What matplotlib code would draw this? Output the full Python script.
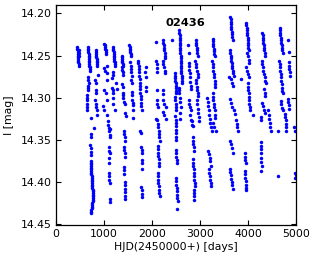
import matplotlib
matplotlib.use("Agg")
import matplotlib.pyplot as plt

# light curve of star 02436
s01_hjd = [445, 448, 450, 452, 455, 457, 460, 462, 465, 468, 470, 473, 475, 478, 480]
s01_mag = [14.240, 14.242, 14.244, 14.246, 14.248, 14.250, 14.252, 14.254, 14.256, 14.258,
           14.260, 14.262, 14.243, 14.247, 14.251]

s02_hjd = [670, 672, 675, 678, 680, 682, 685, 688, 690, 693, 695, 698, 700, 703, 705,
           665, 670, 680, 665, 668, 672, 640, 645, 650, 640, 645, 640, 730, 790,
           720, 735, 715, 725, 732, 740,
           720, 722, 725, 728, 730, 732, 735, 738, 740, 742, 745, 748, 750, 752, 755, 758,
           760, 762, 765, 768, 770, 772, 775, 778, 780, 760, 755, 750, 745, 740, 735, 730]
s02_mag = [14.240, 14.242, 14.244, 14.246, 14.248, 14.250, 14.252, 14.254, 14.256, 14.258,
           14.260, 14.262, 14.264, 14.266, 14.268,
           14.276, 14.279, 14.282, 14.286, 14.289, 14.291, 14.297, 14.300, 14.303, 14.307,
           14.311, 14.315, 14.324, 14.336,
           14.343, 14.346, 14.356, 14.360, 14.364, 14.368,
           14.375, 14.377, 14.379, 14.381, 14.383, 14.385, 14.387, 14.389, 14.391, 14.393,
           14.395, 14.397, 14.399, 14.401, 14.403, 14.405, 14.407, 14.409, 14.411, 14.413,
           14.415, 14.417, 14.419, 14.421, 14.423, 14.425, 14.427, 14.429, 14.431, 14.433,
           14.435, 14.437]

s03_hjd = [830, 833, 836, 840, 843, 846, 850, 853, 856, 860, 875, 820, 835, 830, 835,
           815, 825, 840, 850, 860]
s03_mag = [14.244, 14.246, 14.248, 14.250, 14.252, 14.254, 14.256, 14.258, 14.260, 14.262,
           14.273, 14.279, 14.283, 14.291, 14.295, 14.303, 14.307, 14.311, 14.315, 14.320]

s04_hjd = [1010, 1015, 1020, 1030, 1035, 1040, 1050, 1060, 1000, 1030, 1060, 1060, 1000,
           1040, 1070, 990, 995, 1060, 1130,
           1080, 1090, 1100, 1110, 1120, 1130, 1100, 1110, 1120, 1110, 1115,
           1100, 1105, 1110, 1120, 1120, 1125]
s04_mag = [14.236, 14.238, 14.240, 14.242, 14.244, 14.246, 14.248, 14.262, 14.265, 14.268,
           14.271, 14.279, 14.291, 14.295, 14.303, 14.310, 14.315, 14.321, 14.337,
           14.328, 14.332, 14.336, 14.340, 14.344, 14.347, 14.359, 14.363, 14.366, 14.372,
           14.377, 14.389, 14.393, 14.397, 14.401, 14.420, 14.424]

s05_hjd = [1190, 1193, 1196, 1200, 1203, 1206, 1210, 1213, 1216, 1220, 1222, 1225,
           1180, 1190, 1170, 1170, 1180, 1190, 1190, 1180, 1225, 1250, 1270]
s05_mag = [14.240, 14.242, 14.244, 14.246, 14.248, 14.250, 14.252, 14.254, 14.256, 14.258,
           14.260, 14.262, 14.270, 14.273, 14.277, 14.288, 14.291, 14.294, 14.300, 14.307,
           14.315, 14.282, 14.290]

s06_hjd = [1370, 1373, 1376, 1380, 1383, 1386, 1390, 1370, 1380, 1390, 1400, 1380, 1400,
           1390, 1392, 1395, 1420, 1440, 1440, 1450,
           1410, 1420, 1430, 1440, 1420, 1425, 1430, 1435, 1415, 1420, 1425,
           1430, 1432, 1435, 1438, 1440, 1445]
s06_mag = [14.250, 14.252, 14.254, 14.256, 14.258, 14.260, 14.262, 14.264, 14.267, 14.270,
           14.273, 14.284, 14.287, 14.294, 14.297, 14.300, 14.305, 14.308, 14.318, 14.322,
           14.339, 14.343, 14.347, 14.351, 14.358, 14.362, 14.366, 14.370, 14.382, 14.386,
           14.390, 14.400, 14.404, 14.408, 14.412, 14.416, 14.420]

s07_hjd = [1530, 1535, 1540, 1545, 1550, 1555, 1560, 1550, 1560, 1565, 1570, 1580, 1570,
           1590, 1580, 1585, 1590, 1595, 1600, 1600, 1600]
s07_mag = [14.238, 14.240, 14.242, 14.244, 14.246, 14.248, 14.250, 14.258, 14.262, 14.266,
           14.270, 14.274, 14.279, 14.283, 14.293, 14.297, 14.303, 14.306, 14.309, 14.315,
           14.324]

s08_hjd = [1710, 1715, 1720, 1725, 1730, 1735, 1740, 1745, 1750, 1755, 1760, 1765, 1770,
           1775, 1780, 1790,
           1760, 1770, 1780, 1785, 1790, 1795, 1800, 1790, 1780, 1785, 1790, 1795,
           1875, 1860, 1865, 1870, 1875]
s08_mag = [14.256, 14.259, 14.262, 14.266, 14.270, 14.274, 14.278, 14.282, 14.286, 14.290,
           14.294, 14.298, 14.302, 14.306, 14.310, 14.314,
           14.339, 14.342, 14.358, 14.362, 14.366, 14.374, 14.378, 14.385, 14.406, 14.410,
           14.414, 14.418,
           14.264, 14.270, 14.275, 14.287, 14.292]

s09_hjd = [2080, 2090, 2095, 2100, 2110, 2100, 2100, 2110, 2120, 2090,
           2110, 2120, 2130, 2140, 2150, 2155, 2160,
           2120, 2125, 2130, 2135, 2140, 2145, 2150,
           2120, 2125, 2130, 2135, 2140, 2150, 2155, 2160]
s09_mag = [14.234, 14.256, 14.260, 14.265, 14.270, 14.291, 14.303, 14.307, 14.311, 14.325,
           14.327, 14.331, 14.335, 14.339, 14.343, 14.347, 14.351,
           14.357, 14.361, 14.365, 14.369, 14.373, 14.377, 14.381,
           14.389, 14.393, 14.397, 14.401, 14.405, 14.409, 14.413, 14.417]

s10_hjd = [2220, 2230, 2240, 2250, 2260, 2265, 2270, 2275, 2220, 2235, 2250, 2265, 2280,
           2230, 2260, 2290, 2230, 2260, 2290, 2225, 2235]
s10_mag = [14.232, 14.235, 14.238, 14.241, 14.244, 14.247, 14.250, 14.253, 14.256, 14.260,
           14.264, 14.268, 14.271, 14.303, 14.307, 14.311, 14.317, 14.321, 14.325, 14.291,
           14.296]

s11_hjd = [2420, 2470, 2475, 2480, 2485, 2490, 2495, 2500, 2505, 2510,
           2470, 2480, 2490, 2500, 2510, 2480, 2495, 2510,
           2490, 2495, 2500, 2505, 2510, 2500, 2505, 2510, 2515, 2520,
           2500, 2505, 2510, 2515, 2520, 2525, 2530, 2535, 2520]
s11_mag = [14.232, 14.271, 14.274, 14.277, 14.280, 14.283, 14.286, 14.289, 14.292, 14.295,
           14.299, 14.303, 14.307, 14.311, 14.315, 14.322, 14.326, 14.330,
           14.334, 14.338, 14.342, 14.346, 14.350, 14.362, 14.366, 14.370, 14.374, 14.378,
           14.395, 14.399, 14.403, 14.407, 14.411, 14.415, 14.419, 14.423, 14.432]

s12_hjd = [2570, 2572, 2575, 2578, 2580, 2583, 2585, 2588, 2590, 2593, 2595, 2598, 2600,
           2603, 2605, 2608, 2610, 2612, 2615, 2617, 2618, 2620,
           2560, 2560, 2565, 2575, 2585, 2600, 2580, 2580]
s12_mag = [14.220, 14.223, 14.226, 14.229, 14.232, 14.235, 14.238, 14.241, 14.244, 14.247,
           14.250, 14.253, 14.256, 14.259, 14.262, 14.265, 14.268, 14.271, 14.274, 14.277,
           14.280, 14.283, 14.288, 14.291, 14.295, 14.300, 14.305, 14.311, 14.318, 14.325]

s13_hjd = [2750, 2770, 2760, 2770, 2780, 2790, 2800, 2790, 2805, 2820, 2760, 2775, 2790,
           2810, 2790, 2810, 2830,
           2840, 2845, 2850, 2855, 2860, 2865, 2870,
           2850, 2855, 2860, 2865, 2870, 2875, 2880, 2885, 2890, 2880, 2875, 2870, 2865]
s13_mag = [14.238, 14.247, 14.259, 14.263, 14.267, 14.271, 14.275, 14.281, 14.286, 14.290,
           14.303, 14.307, 14.311, 14.315, 14.320, 14.326, 14.332,
           14.328, 14.333, 14.347, 14.351, 14.355, 14.359, 14.363,
           14.373, 14.377, 14.381, 14.385, 14.389, 14.393, 14.397, 14.401, 14.405, 14.409,
           14.413, 14.417, 14.421]

s14_hjd = [2910, 2915, 2920, 2930, 2935, 2940, 2950, 2900, 2910, 2920, 2935, 2950, 2960,
           2920, 2925, 2935, 2945, 2955, 2960, 2930, 2940, 2950, 2960, 2970, 2980]
s14_mag = [14.232, 14.235, 14.238, 14.241, 14.244, 14.247, 14.250, 14.256, 14.260, 14.264,
           14.268, 14.272, 14.275, 14.279, 14.283, 14.287, 14.291, 14.295, 14.298, 14.303,
           14.308, 14.313, 14.318, 14.323, 14.328]

s15_hjd = [3150, 3160, 3170, 3180, 3190, 3200, 3215, 3230, 3240, 3170, 3185, 3200, 3215,
           3230, 3180, 3190, 3200, 3210, 3220, 3230]
s15_mag = [14.300, 14.305, 14.310, 14.315, 14.320, 14.325, 14.330, 14.335, 14.339, 14.363,
           14.367, 14.371, 14.375, 14.381, 14.385, 14.389, 14.393, 14.397, 14.401, 14.405]

s16_hjd = [3260, 3270, 3275, 3280, 3290, 3295, 3300, 3310, 3250, 3260, 3270, 3280, 3290,
           3300, 3305, 3310, 3320, 3260, 3270, 3280, 3290, 3300, 3305, 3310, 3320,
           3280, 3300, 3330]
s16_mag = [14.230, 14.233, 14.236, 14.239, 14.242, 14.245, 14.248, 14.251, 14.256, 14.260,
           14.264, 14.268, 14.272, 14.276, 14.280, 14.284, 14.287, 14.295, 14.299, 14.303,
           14.307, 14.311, 14.315, 14.320, 14.324, 14.330, 14.335, 14.340]

s17_hjd = [3630, 3635, 3640, 3645, 3650, 3655, 3660, 3665, 3670, 3680,
           3620, 3630, 3640, 3645, 3650, 3660, 3665, 3670, 3680, 3690, 3700,
           3640, 3665, 3690, 3620, 3640, 3660, 3700, 3720, 3740, 3760, 3780, 3800,
           3620, 3640, 3660, 3680, 3620, 3630, 3640, 3650, 3660, 3670, 3680, 3604]
s17_mag = [14.204, 14.207, 14.210, 14.213, 14.216, 14.219, 14.222, 14.225, 14.228, 14.231,
           14.244, 14.247, 14.250, 14.253, 14.256, 14.259, 14.262, 14.265, 14.268, 14.271,
           14.274, 14.278, 14.282, 14.286, 14.301, 14.306, 14.311, 14.315, 14.319, 14.327,
           14.331, 14.335, 14.339, 14.351, 14.355, 14.360, 14.365, 14.384, 14.388, 14.392,
           14.396, 14.400, 14.404, 14.408, 14.276]

s18_hjd = [3854]
s18_mag = [14.278]

s19_hjd = [3960, 3965, 3970, 3975, 3980, 3985, 3990, 3995, 4000, 4005, 4008, 4010,
           3980, 3990, 4010, 4020, 3950, 3970, 3990, 4010,
           3990, 4000, 4005, 4010, 4015, 4020, 4025, 4030, 4040,
           3935, 3940, 3945, 3950, 3935, 3940, 3945, 3950, 3955, 3960, 3950]
s19_mag = [14.211, 14.214, 14.217, 14.220, 14.223, 14.226, 14.229, 14.232, 14.235, 14.238,
           14.241, 14.244, 14.247, 14.251, 14.255, 14.259, 14.264, 14.268, 14.272, 14.276,
           14.283, 14.287, 14.291, 14.295, 14.299, 14.303, 14.307, 14.311, 14.315,
           14.366, 14.370, 14.374, 14.377, 14.387, 14.391, 14.395, 14.399, 14.403, 14.407,
           14.410]

s20_hjd = [4104]
s20_mag = [14.320]

s21_hjd = [4300, 4305, 4310, 4315, 4320, 4330, 4335, 4340, 4350, 4360,
           4290, 4300, 4310, 4320, 4330, 4345, 4360, 4370, 4330, 4345, 4360, 4300,
           4310, 4330, 4350, 4270, 4270, 4265, 4268, 4270, 4272, 4275, 4278, 4280, 4270]
s21_mag = [14.223, 14.226, 14.229, 14.232, 14.235, 14.238, 14.241, 14.244, 14.247, 14.250,
           14.256, 14.260, 14.264, 14.268, 14.272, 14.276, 14.280, 14.283, 14.290, 14.294,
           14.298, 14.306, 14.310, 14.314, 14.318, 14.323, 14.327, 14.353, 14.357, 14.361,
           14.366, 14.371, 14.376, 14.381, 14.387]

s22_hjd = [4420, 4430, 4440, 4450, 4460, 4470]
s22_mag = [14.315, 14.320, 14.325, 14.330, 14.335, 14.339]

s23_hjd = [4620, 4620]
s23_mag = [14.339, 14.393]

s24_hjd = [4660, 4665, 4670, 4675, 4680, 4690, 4695, 4700, 4705, 4710, 4720,
           4650, 4660, 4665, 4670, 4680, 4690, 4695, 4700, 4705, 4710, 4720,
           4680, 4690, 4700, 4720]
s24_mag = [14.217, 14.220, 14.223, 14.226, 14.229, 14.232, 14.235, 14.238, 14.241, 14.244,
           14.247, 14.256, 14.260, 14.264, 14.268, 14.272, 14.276, 14.280, 14.284, 14.288,
           14.292, 14.295, 14.304, 14.308, 14.312, 14.315]

s25_hjd = [4770, 4775, 4780, 4785, 4790, 4800]
s25_mag = [14.319, 14.323, 14.327, 14.331, 14.335, 14.339]

s26_hjd = [4840, 4845, 4850, 4855, 4860, 4865, 4870, 4830, 4840, 4850, 4860]
s26_mag = [14.232, 14.246, 14.258, 14.262, 14.266, 14.270, 14.274, 14.301, 14.305, 14.309,
           14.313]

s27_hjd = [4960, 4970, 4980, 4990, 4985]
s27_mag = [14.335, 14.339, 14.389, 14.392, 14.395]

seasons = [
    (s01_hjd, s01_mag), (s02_hjd, s02_mag), (s03_hjd, s03_mag), (s04_hjd, s04_mag),
    (s05_hjd, s05_mag), (s06_hjd, s06_mag), (s07_hjd, s07_mag), (s08_hjd, s08_mag),
    (s09_hjd, s09_mag), (s10_hjd, s10_mag), (s11_hjd, s11_mag), (s12_hjd, s12_mag),
    (s13_hjd, s13_mag), (s14_hjd, s14_mag), (s15_hjd, s15_mag), (s16_hjd, s16_mag),
    (s17_hjd, s17_mag), (s18_hjd, s18_mag), (s19_hjd, s19_mag), (s20_hjd, s20_mag),
    (s21_hjd, s21_mag), (s22_hjd, s22_mag), (s23_hjd, s23_mag), (s24_hjd, s24_mag),
    (s25_hjd, s25_mag), (s26_hjd, s26_mag), (s27_hjd, s27_mag),
]

star_id = "02436"
xticks = [0, 1000, 2000, 3000, 4000, 5000]
yticks = [14.20, 14.25, 14.30, 14.35, 14.40, 14.45]

fig = plt.figure(figsize=(3.16, 2.59), dpi=100)
ax = fig.add_axes([0.177, 0.131, 0.76, 0.85])

hjd = [h for s in seasons for h in s[0]]
mag = [m for s in seasons for m in s[1]]
ax.plot(hjd, mag, "b.", markersize=5, markeredgewidth=0)

ax.set_xlim(0, 5000)
ax.set_ylim(14.451, 14.19)
ax.set_xticks(xticks)
ax.set_yticks(yticks)
ax.set_yticklabels([f"{t:.2f}" for t in yticks])
ax.tick_params(direction="in", top=True, right=True, length=3.5, width=0.8,
               labelsize=7.8, pad=3)
for sp in ax.spines.values():
    sp.set_linewidth(0.9)

ax.text(0.5375, 0.92, star_id, transform=ax.transAxes, ha="center", va="center",
        fontsize=8.2, fontweight="bold")
ax.set_xlabel("HJD(2450000+) [days]", fontsize=7.8, labelpad=2)
ax.set_ylabel("I [mag]", fontsize=7.8, labelpad=5)

fig.savefig("out.png", dpi=100)
